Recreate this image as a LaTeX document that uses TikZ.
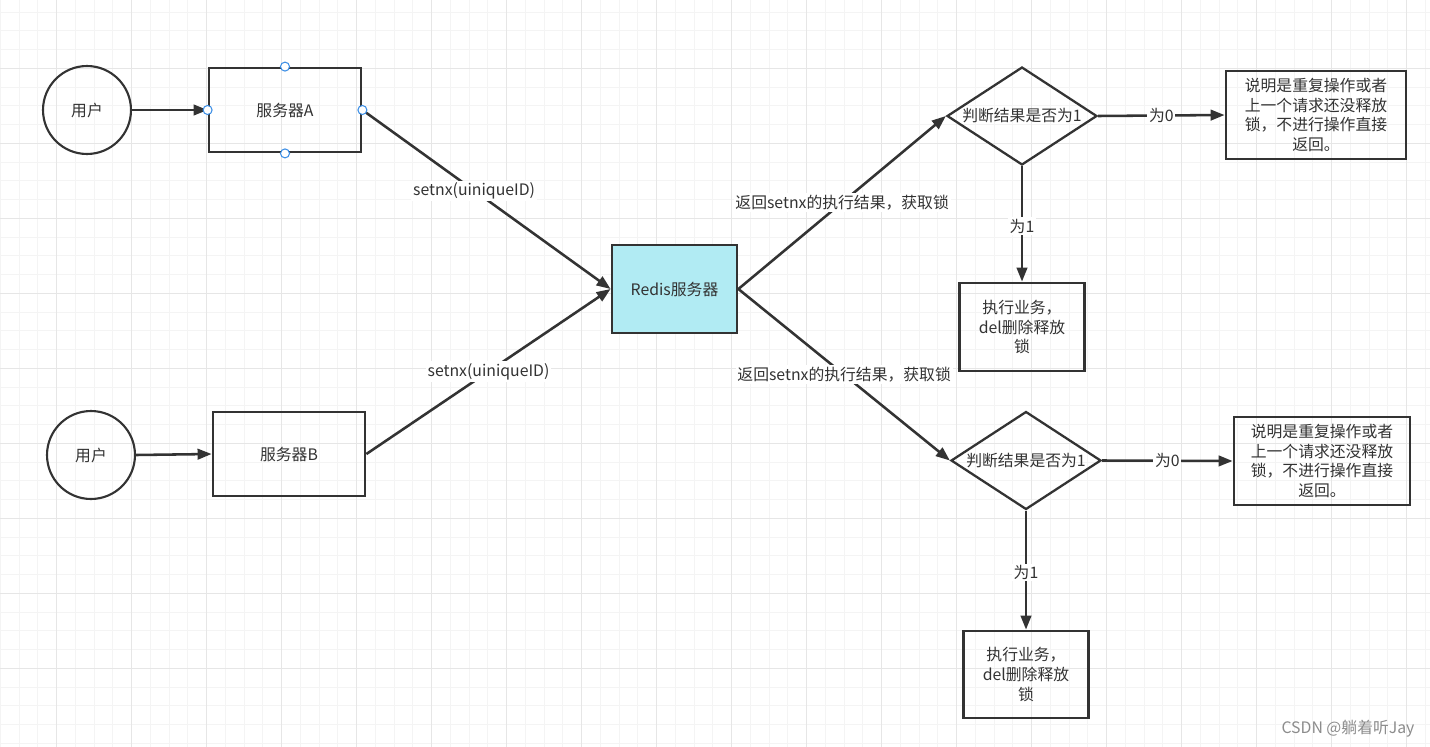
\documentclass[tikz,border=0pt]{standalone}
\usepackage{fontspec}
\setmainfont{Noto Sans CJK SC}
\usepackage{xcolor}
\usetikzlibrary{arrows, arrows.meta}
\usetikzlibrary{shapes.geometric}
\definecolor{ink}{HTML}{333333}
\definecolor{redisfill}{HTML}{B1EBF3}
\definecolor{gridminor}{HTML}{F4F4F4}
\definecolor{gridmajor}{HTML}{E6E6E6}
\definecolor{handle}{HTML}{3D8FE6}
\definecolor{markgrey}{HTML}{8C8C8C}

\begin{document}
\begin{tikzpicture}[x=0.02cm, y=-0.02cm, >={Triangle[length=8pt, width=6pt]},
    every node/.style={text=ink, font=\fontsize{9}{11.3}\selectfont},
    box/.style={draw=ink, line width=1.6pt, inner sep=0pt, align=center},
    user/.style={circle, draw=ink, line width=1.2pt, minimum size=1.76cm, inner sep=0pt},
    decide/.style={diamond, draw=ink, line width=1.3pt, aspect=1.53, inner sep=-2pt,
      minimum width=3cm, minimum height=1.96cm},
    link/.style={->, draw=ink, line width=1.45pt},
    tag/.style={fill=white, inner sep=1pt},
    knob/.style={circle, draw=handle, fill=white, line width=0.6pt, inner sep=0pt, minimum size=0.18cm}]
      \useasboundingbox (0,0) rectangle (1430,747);
      % background grid
      \fill[white] (0,0) rectangle (1430,747);
      \foreach \i in {0,...,76}
        \draw[gridminor, line width=0.55pt] ({0.45+18.75*\i},0) -- ++(0,747);
      \foreach \i in {0,...,39}
        \draw[gridminor, line width=0.55pt] (0,{12.05+18.75*\i}) -- ++(1430,0);
      \foreach \i in {0,...,18}
        \draw[gridmajor, line width=0.7pt] ({56.7+75*\i},0) -- ++(0,747);
      \foreach \i in {0,...,8}
        \draw[gridmajor, line width=0.7pt] (0,{68.3+75*\i}) -- ++(1430,0);

      % users and servers
      \node[user] (userA) at (87,110) {用户};
      \node[box, minimum width=3.04cm, minimum height=1.68cm] (srvA) at (285,110) {服务器A};
      \node[user] (userB) at (91,455) {用户};
      \node[box, minimum width=3.04cm, minimum height=1.68cm] (srvB) at (289,454) {服务器B};
      \node[box, fill=redisfill, minimum width=2.5cm, minimum height=1.76cm] (redis) at (674.5,289) {Redis服务器};

      % upper branch
      \node[decide] (decA) at (1022,116) {判断结果是否为1};
      \node[box, minimum width=3.6cm, minimum height=1.76cm] (msgA) at (1316,115)
        {说明是重复操作或者\\上一个请求还没释放\\锁，不进行操作直接\\返回。};
      \node[box, minimum width=2.5cm, minimum height=1.76cm] (execA) at (1022,327)
        {执行业务，\\del删除释放\\锁};

      % lower branch
      \node[decide] (decB) at (1026,460.5) {判断结果是否为1};
      \node[box, minimum width=3.52cm, minimum height=1.76cm] (msgB) at (1322,461)
        {说明是重复操作或者\\上一个请求还没释放\\锁，不进行操作直接\\返回。};
      \node[box, minimum width=2.5cm, minimum height=1.74cm] (execB) at (1026,674.5)
        {执行业务，\\del删除释放\\锁};

      \draw[link] (userA.east) -- (srvA.west);
      \draw[link] (userB.east) -- (srvB.west);
      \draw[link] (srvA.east) -- (redis.west) node[tag, pos=0.45] {setnx(uiniqueID)};
      \draw[link] (srvB.east) -- (redis.west) node[tag, pos=0.5] {setnx(uiniqueID)};
      \draw[link] (redis.east) -- (decA.west) node[tag, pos=0.5] {返回setnx的执行结果，获取锁};
      \draw[link] (redis.east) -- (decB.west) node[tag, pos=0.5] {返回setnx的执行结果，获取锁};
      \draw[link] (decA.east) -- (msgA.west) node[tag, pos=0.5] {为0};
      \draw[link] (decA.south) -- (execA.north) node[tag, pos=0.52] {为1};
      \draw[link] (decB.east) -- (msgB.west) node[tag, pos=0.5] {为0};
      \draw[link] (decB.south) -- (execB.north) node[tag, pos=0.52] {为1};

      % selection handles of server A
      \node[knob] (knobN) at (srvA.north) {};
      \node[knob] (knobS) at (srvA.south) {};
      \node[knob] (knobW) at (srvA.west) {};
      \node[knob] (knobE) at (srvA.east) {};

      \node[text=markgrey] (mark) at (1348,729) {CSDN @躺着听Jay};
    \end{tikzpicture}
\end{document}
